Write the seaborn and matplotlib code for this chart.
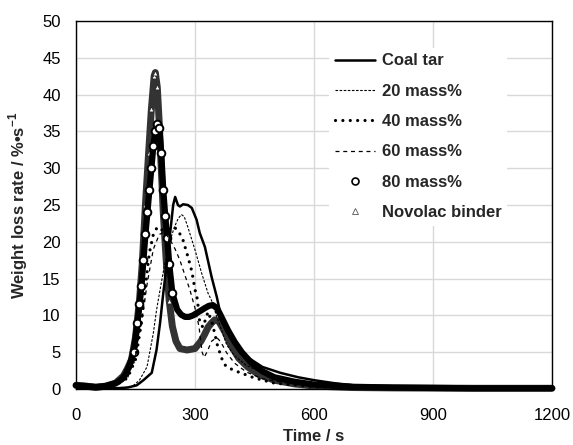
import matplotlib
matplotlib.use("Agg")
import matplotlib.pyplot as plt
from matplotlib.lines import Line2D
from matplotlib.font_manager import FontProperties
import seaborn as sns

sns.set_style("whitegrid")
plt.rcParams['font.family'] = ['Liberation Sans', 'DejaVu Sans']
plt.rcParams['mathtext.fontset'] = 'custom'
plt.rcParams['mathtext.rm'] = 'Liberation Sans'
plt.rcParams['mathtext.bf'] = 'Liberation Sans:bold'

# values (time / s, weight loss rate / %/s)
coal_t = [0, 50, 100, 130, 153, 170, 191, 203, 212, 220, 230, 238, 245, 250, 257, 262, 270, 282,
          292, 304, 312, 325, 342, 355, 365, 380, 400, 430, 470, 515, 560, 600, 650, 700, 750, 800,
          900, 1000, 1200]
coal_v = [0.1, 0.1, 0.1, 0.2, 0.5, 1.2, 2.2, 5.3, 9.0, 13.0, 17.5, 21.5, 25.0, 26.1, 25.0, 24.8,
          25.1, 25.0, 24.6, 23.0, 21.2, 19.3, 15.2, 12.5, 10.0, 8.0, 6.2, 4.4, 3.0, 2.2, 1.6, 1.2,
          0.8, 0.5, 0.3, 0.2, 0.1, 0.05, 0.05]

m20_t = [0, 100, 141, 160, 179, 195, 203, 212, 222, 235, 248, 258, 266, 273, 282, 300, 317, 333,
         342, 355, 380, 400, 430, 470, 515, 600, 700, 800, 1000, 1200]
m20_v = [0.05, 0.1, 0.3, 1.2, 3.0, 7.6, 10.7, 13.5, 16.5, 19.8, 22.0, 23.2, 23.7, 23.4, 22.0,
         18.9, 15.7, 13.0, 12.0, 9.8, 6.0, 4.5, 3.2, 2.2, 1.6, 0.8, 0.4, 0.2, 0.08, 0.05]

m40_t = [0, 100, 130, 150, 165, 175, 185, 195, 205, 220, 235, 247, 258, 270, 282, 292, 300, 306,
         312, 320, 333, 343, 350, 358, 363, 371, 380, 400, 420, 450, 500, 600, 700, 1000, 1200]
m40_v = [0.3, 0.5, 1.5, 4.0, 9.0, 14.0, 18.5, 21.0, 22.0, 21.5, 21.8, 22.0, 21.5, 20.2, 18.0,
         16.0, 13.5, 12.2, 9.0, 8.4, 10.5, 9.0, 7.5, 5.6, 4.9, 3.6, 3.0, 2.5, 2.1, 1.5, 0.8, 0.3,
         0.15, 0.05, 0.05]

m60_t = [0, 100, 130, 150, 165, 180, 195, 210, 222, 235, 250, 262, 270, 287, 300, 310, 318, 323,
         330, 342, 355, 365, 380, 400, 430, 470, 520, 600, 700, 800, 1000, 1200]
m60_v = [0.3, 0.5, 1.5, 4.5, 9.0, 14.5, 19.0, 21.0, 21.3, 20.5, 19.0, 17.5, 16.2, 13.5, 11.0,
         8.5, 5.0, 4.3, 5.0, 6.5, 7.0, 6.4, 4.9, 3.5, 2.3, 1.4, 0.9, 0.5, 0.25, 0.12, 0.06, 0.05]

m80_t = [0, 25, 50, 75, 100, 115, 125, 135, 145, 155, 160, 165, 170, 175, 180, 185, 190, 195, 200,
         205, 210, 215, 220, 225, 230, 235, 243, 255, 265, 275, 285, 295, 310, 325, 335, 345, 355,
         362, 372, 383, 400, 418, 443, 470, 500, 550, 600, 650, 700, 800, 900, 1000, 1100, 1200]
m80_v = [0.5, 0.4, 0.3, 0.4, 0.8, 1.3, 2.0, 3.2, 5.0, 9.0, 11.5, 14.0, 17.5, 21.0, 24.0, 27.0,
         30.0, 33.0, 35.0, 36.0, 35.5, 32.0, 27.0, 23.5, 20.5, 17.0, 13.0, 10.8, 10.1, 9.8, 9.8,
         10.0, 10.5, 11.0, 11.3, 11.4, 11.0, 10.3, 9.2, 8.0, 6.4, 5.0, 3.5, 2.4, 1.6, 1.0, 0.6,
         0.45, 0.3, 0.2, 0.15, 0.1, 0.1, 0.1]

nov_t = [0, 25, 50, 75, 100, 120, 130, 140, 150, 155, 160, 167, 175, 183, 190, 197, 200, 205, 210,
         215, 220, 228, 235, 243, 252, 262, 280, 300, 315, 325, 333, 342, 350, 360, 375, 390, 410,
         433, 460, 500, 550, 600, 700, 800, 1000, 1200]
nov_v = [0.5, 0.4, 0.2, 0.4, 0.8, 1.8, 2.8, 4.0, 7.0, 9.5, 12.0, 17.0, 25.0, 32.0, 38.0, 42.5,
         43.0, 41.0, 36.0, 30.0, 24.0, 17.0, 12.0, 8.5, 6.5, 5.5, 5.3, 5.5, 6.5, 7.5, 8.4, 9.0, 9.4,
         9.2, 7.8, 6.0, 4.2, 3.0, 2.0, 1.2, 0.7, 0.4, 0.2, 0.15, 0.1, 0.1]

# rings only show on the steep flanks, elsewhere the markers merge into a solid band
ring80 = [i for i, t in enumerate(m80_t) if 140 <= t <= 245]
ringnov = [i for i, t in enumerate(nov_t) if 140 <= t <= 240]

fig = plt.figure(figsize=(5.73, 4.45), dpi=100)
ax = fig.add_axes([0.1326, 0.1258, 0.8308, 0.827])

# thick marker bands first, thin lines on top
sns.lineplot(x=nov_t, y=nov_v, ax=ax, color='#333333', linewidth=5, marker='^', markersize=3.5,
             mfc='white', mec='#222222', mew=0.5, markevery=ringnov, zorder=2, clip_on=False)
sns.lineplot(x=m80_t, y=m80_v, ax=ax, color='black', linewidth=4.5, marker='o', markersize=5.5,
             mfc='white', mec='black', mew=1.4, markevery=ring80, zorder=3, clip_on=False)
sns.lineplot(x=coal_t, y=coal_v, ax=ax, color='black', linewidth=1.8, zorder=4)
sns.lineplot(x=m20_t, y=m20_v, ax=ax, color='black', linewidth=0.8, linestyle=(0, (2.3, 1.4)), zorder=4)
sns.lineplot(x=m40_t, y=m40_v, ax=ax, color='black', linewidth=2.3, linestyle=(0, (0.01, 2.3)),
             dash_capstyle='round', zorder=4)
sns.lineplot(x=m60_t, y=m60_v, ax=ax, color='black', linewidth=0.9, linestyle=(0, (3.2, 3.0)), zorder=4)

ax.set_xlim(0, 1200)
ax.set_ylim(0, 50)
ax.set_xticks([0, 300, 600, 900, 1200])
ax.set_yticks(range(0, 51, 5))
ax.grid(True, color='#d9d9d9', linewidth=1)
for s in ax.spines.values():
    s.set_color('black')
    s.set_linewidth(1)
ax.tick_params(axis='both', direction='in', length=4, width=1, color='#404040',
               labelsize=12, pad=11, labelcolor='black')
ax.tick_params(axis='x', pad=14)

ax.set_xlabel('Time / s', fontsize=12, fontweight='bold')
ax.set_ylabel(r'Weight loss rate / %•s$^{\mathbf{-1}}$', fontsize=12, fontweight='bold')
ax.xaxis.set_label_coords(0.5, -0.108)
ax.yaxis.set_label_coords(-0.097, 0.5)

handles = [
    Line2D([], [], color='black', linewidth=1.8),
    Line2D([], [], color='black', linewidth=0.8, linestyle=(0, (2.3, 1.4))),
    Line2D([], [], color='black', linewidth=2.3, linestyle=(0, (0.01, 2.3)), dash_capstyle='round'),
    Line2D([], [], color='black', linewidth=0.9, linestyle=(0, (3.2, 3.0))),
    Line2D([], [], color='black', linestyle='none', marker='o', markersize=5, mfc='white', mew=1.2),
    Line2D([], [], color='#555555', linestyle='none', marker='^', markersize=4, mfc='white', mew=0.6),
]
labels = ['Coal tar', '20 mass%', '40 mass%', '60 mass%', '80 mass%', 'Novolac binder']
leg = ax.legend(handles, labels, loc='upper left', bbox_to_anchor=(0.532, 0.928),
                borderaxespad=0, borderpad=0.35, frameon=True, fancybox=False, framealpha=1,
                facecolor='white', edgecolor='none', handlelength=2.4, handletextpad=0.4,
                labelspacing=0.92, prop=FontProperties(family='Liberation Sans', weight='bold', size=12))
leg.set_zorder(5)

fig.savefig('out.png', dpi=100)
